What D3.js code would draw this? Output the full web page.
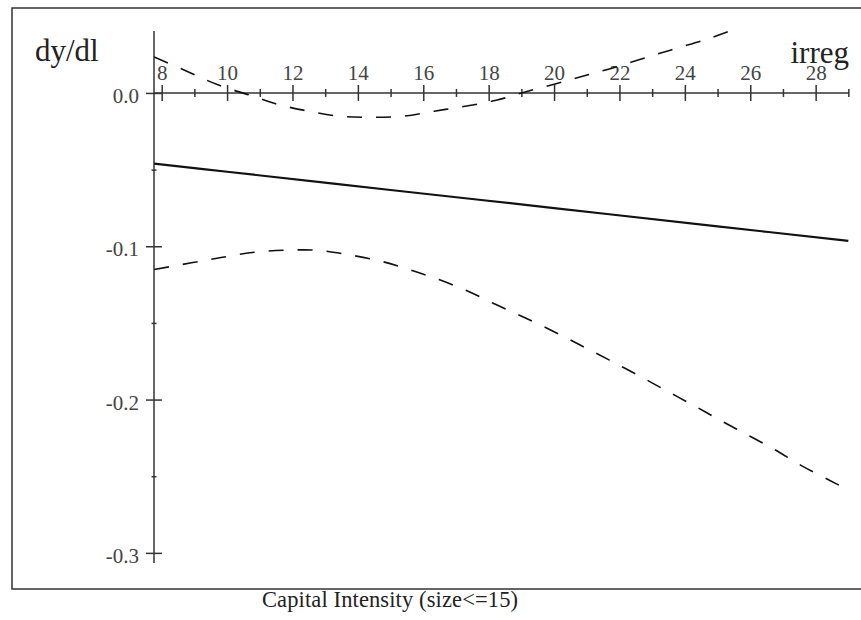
<!DOCTYPE html>
<html>
<head>
<meta charset="utf-8">
<script src="https://cdn.jsdelivr.net/npm/d3@7"></script>
<style>
  body { margin: 0; background: #fff; }
  text { font-family: "Liberation Serif", "Times New Roman", serif; }
</style>
</head>
<body>
<svg id="plotSvg" width="861" height="620"></svg>
<script>
// estimate (solid line)
let xMid = [7.77, 10, 15, 20, 25, 29];
let yMid = [-0.0461, -0.0514, -0.0633, -0.0751, -0.0870, -0.0965];

// upper band (dashed)
let xUpper = [7.77, 8.87, 9.72, 10.70, 11.59, 12.50, 13.45, 14.40, 15.38, 16.33,
  17.28, 18.23, 19.14, 20.06, 20.98, 21.87, 22.84, 23.76, 24.67, 25.35];
let yUpper = [0.0235, 0.0132, 0.0053, -0.0015, -0.0077, -0.0119, -0.0152, -0.0159, -0.0152, -0.0119,
  -0.0087, -0.0048, 0.0008, 0.0060, 0.0115, 0.0168, 0.0233, 0.0292, 0.0350, 0.0402];

// lower band (dashed)
let xLower = [7.77, 8.91, 9.86, 10.84, 11.77, 12.73, 13.70, 14.66, 15.58, 16.50,
  17.37, 18.24, 19.11, 19.97, 20.84, 21.68, 22.54, 23.38, 24.23, 25.06,
  25.91, 26.75, 27.55, 28.42, 29.0];
let yLower = [-0.1152, -0.1108, -0.1072, -0.1039, -0.1026, -0.1026, -0.1055, -0.1095, -0.1153, -0.1219,
  -0.1294, -0.1382, -0.1466, -0.1554, -0.1649, -0.1741, -0.1838, -0.1936, -0.2034, -0.2132,
  -0.2230, -0.2327, -0.2429, -0.2526, -0.2590];

// ticks
let xMajor = [8, 10, 12, 14, 16, 18, 20, 22, 24, 26, 28];
let xMinor = [9, 11, 13, 15, 17, 19, 21, 23, 25, 27, 29];
let yMajor = [0, -0.1, -0.2, -0.3];
let yTickLabels = ["0.0", "-0.1", "-0.2", "-0.3"];
let yMinor = [-0.05, -0.15, -0.25];

let svg = d3.select("#plotSvg");
let axisColor = "#333";

// scales
let xScale = d3.scaleLinear()
  .domain([7.765, 29.02])
  .range([154, 849]);

let yScale = d3.scaleLinear()
  .domain([-0.3066, 0.0404])
  .range([563, 31]);

// outer frame
svg.append("rect")
  .attr("x", 12)
  .attr("y", 8)
  .attr("width", 880)
  .attr("height", 581)
  .attr("fill", "none")
  .attr("stroke", axisColor)
  .attr("stroke-width", 1.5);

let y0 = yScale(0);

// x axis: labels above, ticks crossing the line
let xTop = svg.append("g")
  .attr("transform", "translate(0," + y0 + ")")
  .call(d3.axisTop(xScale).tickValues(xMajor).tickSize(8).tickPadding(5.4).tickFormat(d => d));
xTop.select(".domain").remove();

let xBottom = svg.append("g")
  .attr("transform", "translate(0," + y0 + ")")
  .call(d3.axisBottom(xScale).tickValues(xMajor).tickSize(8).tickFormat(""));
xBottom.select(".domain").remove();

let xMinorG = svg.append("g")
  .attr("transform", "translate(0," + (y0 - 4) + ")")
  .call(d3.axisBottom(xScale).tickValues(xMinor).tickSize(8).tickFormat(""));
xMinorG.select(".domain").remove();

svg.append("line")
  .attr("x1", xScale.range()[0])
  .attr("x2", xScale.range()[1])
  .attr("y1", y0)
  .attr("y2", y0)
  .attr("stroke", axisColor)
  .attr("stroke-width", 1.5);

// y axis
let x0 = xScale.range()[0];
let yLeft = svg.append("g")
  .attr("transform", "translate(" + x0 + ",0)")
  .call(d3.axisLeft(yScale).tickValues(yMajor).tickSize(8).tickPadding(7)
    .tickFormat((d, i) => yTickLabels[i]));
yLeft.select(".domain").remove();
yLeft.selectAll("text").attr("dy", "0.45em");

let yRight = svg.append("g")
  .attr("transform", "translate(" + x0 + ",0)")
  .call(d3.axisRight(yScale).tickValues(yMajor).tickSize(8).tickFormat(""));
yRight.select(".domain").remove();

let yMinorG = svg.append("g")
  .attr("transform", "translate(" + (x0 - 2.5) + ",0)")
  .call(d3.axisRight(yScale).tickValues(yMinor).tickSize(5).tickFormat(""));
yMinorG.select(".domain").remove();

svg.append("line")
  .attr("x1", x0)
  .attr("x2", x0)
  .attr("y1", yScale.range()[0])
  .attr("y2", yScale.range()[1])
  .attr("stroke", axisColor)
  .attr("stroke-width", 1.5);

svg.selectAll(".tick line")
  .attr("stroke", axisColor)
  .attr("stroke-width", 1.5);

svg.selectAll(".tick text")
  .attr("fill", "#444")
  .style("font-size", "21px")
  .style("font-family", "Liberation Serif");

// clip curves to the view
svg.append("clipPath")
  .attr("id", "view")
  .append("rect")
  .attr("x", 154)
  .attr("y", 31)
  .attr("width", 695)
  .attr("height", 532);

let plot = svg.append("g").attr("clip-path", "url(#view)");

function drawCurve(xs, ys, dashed, width) {
  let pts = xs.map((x, i) => [x, ys[i]]);
  let line = d3.line()
    .x(d => xScale(d[0]))
    .y(d => yScale(d[1]))
    .curve(d3.curveCatmullRom);
  plot.append("path")
    .datum(pts)
    .attr("d", line)
    .attr("fill", "none")
    .attr("stroke", "#111")
    .attr("stroke-width", width)
    .attr("stroke-dasharray", dashed ? "15,14" : null);
}

drawCurve(xMid, yMid, false, 2.2);
drawCurve(xUpper, yUpper, true, 1.6);
drawCurve(xLower, yLower, true, 1.6);

// labels
svg.append("text")
  .attr("x", 35)
  .attr("y", 61)
  .style("font-size", "31px")
  .attr("fill", "#222")
  .text("dy/dl");

svg.append("text")
  .attr("x", 849)
  .attr("y", 63)
  .style("text-anchor", "end")
  .style("font-size", "31px")
  .attr("fill", "#222")
  .text("irreg");

svg.append("text")
  .attr("x", 262)
  .attr("y", 607)
  .attr("textLength", 256)
  .attr("lengthAdjust", "spacing")
  .style("font-size", "22.5px")
  .attr("fill", "#222")
  .text("Capital Intensity (size<=15)");
</script>
</body>
</html>
